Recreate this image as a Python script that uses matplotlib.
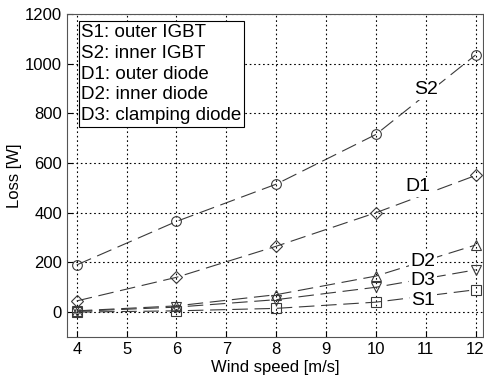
import numpy as np
import matplotlib.pyplot as plt

plt.rcParams['font.family'] = ['Liberation Sans', 'DejaVu Sans']

wind = [4, 6, 8, 10, 12]
s1 = [0, 5, 15, 40, 90]
s2 = [190, 365, 515, 715, 1035]
d1 = [45, 140, 265, 400, 550]
d2 = [5, 25, 70, 145, 270]
d3 = [3, 20, 50, 100, 170]

series = [
    ('S2', s2, 'o', 7, (11.0, 895)),
    ('D1', d1, 'D', 6, (10.85, 505)),
    ('D2', d2, '^', 7, (10.95, 205)),
    ('D3', d3, 'v', 7, (10.95, 128)),
    ('S1', s1, 's', 6.5, (10.95, 45)),
]

fig = plt.figure(figsize=(4.84, 3.79), dpi=100)
ax = fig.add_axes([0.138, 0.111, 0.860, 0.852])

for name, vals, m, ms, (lx, ly) in series:
    ax.plot(wind, vals, color='#3a3a3a', lw=0.8, dashes=(14, 6),
            marker=m, markersize=ms, markerfacecolor='none',
            markeredgecolor='#3a3a3a', markeredgewidth=0.8, zorder=3)
    ax.text(lx, ly, name, fontsize=14, ha='center', va='center', zorder=5,
            bbox=dict(facecolor='white', edgecolor='none', pad=1))

ax.set_xlim(3.8, 12.15)
ax.set_ylim(-100, 1200)
ax.set_xticks(range(4, 13))
ax.set_yticks(range(0, 1201, 200))
ax.grid(True, color='black', lw=0.8, linestyle=(0, (1.5, 2.5)))
ax.tick_params(direction='in', labelsize=12, length=4)
for sp in ax.spines.values():
    sp.set_color('#555555')
ax.set_xlabel('Wind speed [m/s]', fontsize=12, labelpad=2)
ax.set_ylabel('Loss [W]', fontsize=12, labelpad=2)

legend_txt = ('S1: outer IGBT\nS2: inner IGBT\nD1: outer diode\n'
              'D2: inner diode\nD3: clamping diode')
ax.text(0.035, 0.97, legend_txt, transform=ax.transAxes, fontsize=13.5,
        va='top', ha='left', linespacing=1.3, zorder=6,
        bbox=dict(facecolor='white', edgecolor='black', lw=0.8, pad=2))

fig.savefig('out.png', dpi=100)
